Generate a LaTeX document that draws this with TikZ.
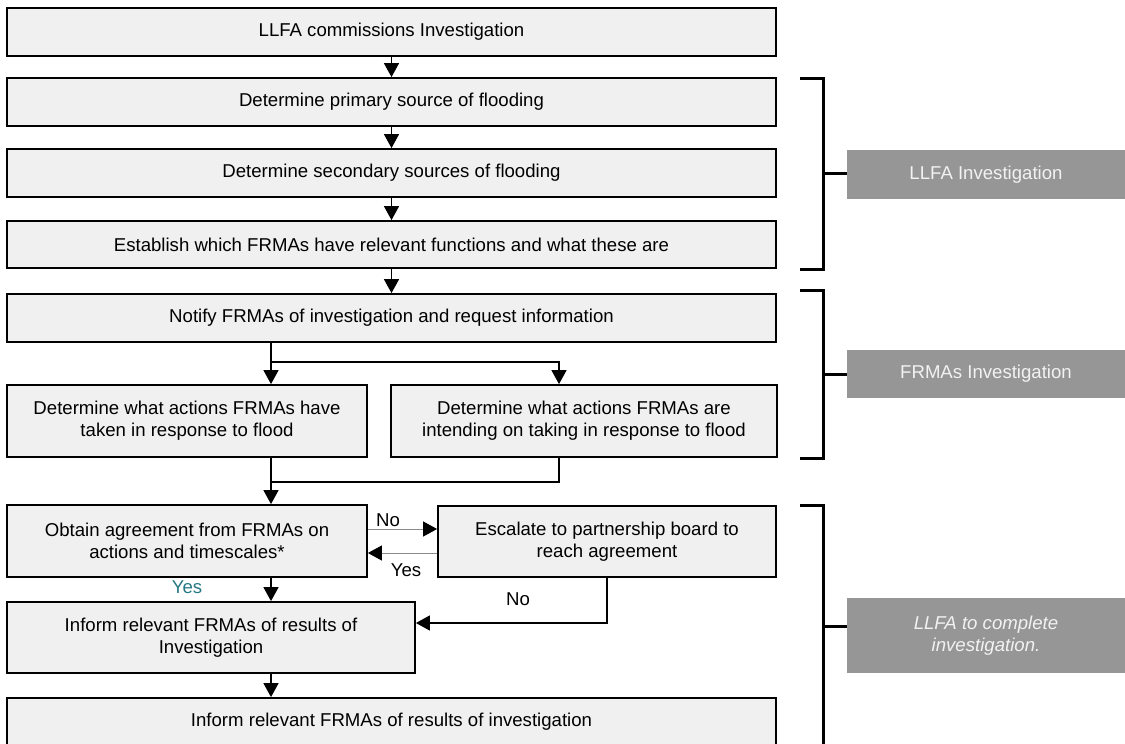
\documentclass[tikz,border=0pt]{standalone}
\usepackage{fontspec}
\setmainfont{Liberation Sans}
\usetikzlibrary{arrows.meta}
\definecolor{boxfill}{HTML}{F0F0F0}
\definecolor{sidegray}{HTML}{969696}
\definecolor{sidetext}{HTML}{F2F2F2}
\definecolor{yescol}{RGB}{38,120,130}
\definecolor{thingray}{HTML}{8A8A8A}
\begin{document}
\begin{tikzpicture}[x=1pt,y=-1pt,
  txt/.style={font=\fontsize{18.6}{22}\selectfont},
  box/.style={txt, draw=black, line width=1.8pt, fill=boxfill, align=center, inner sep=0pt},
  side/.style={txt, fill=sidegray, text=sidetext, align=center, inner sep=0pt, minimum width=278pt},
  arr/.style={line width=1.5pt, -{Triangle[width=15pt,length=14pt]}},
  link/.style={line width=1.5pt},
  thinarr/.style={draw=thingray, line width=1pt, -{Triangle[width=15pt,length=14pt,black]}},
  brk/.style={line width=3pt},
  lbl/.style={txt, inner sep=0pt}]
\useasboundingbox (0,0) rectangle (1125,744);
\clip (0,0) rectangle (1125,744);
\fill[white] (0,0) rectangle (1125,744);
% main boxes
\node[box, minimum width=769pt, minimum height=48pt] (b1) at (391.5,32) {LLFA commissions Investigation};
\node[box, minimum width=769pt, minimum height=48pt] (b2) at (391.5,102) {Determine primary source of flooding};
\node[box, minimum width=769pt, minimum height=48pt] (b3) at (391.5,173) {Determine secondary sources of flooding};
\node[box, minimum width=769pt, minimum height=47pt] (b4) at (391.5,244.5) {Establish which FRMAs have relevant functions and what these are};
\node[box, minimum width=769pt, minimum height=48pt] (b5) at (391.5,318) {Notify FRMAs of investigation and request information};
\node[box, minimum width=360pt, minimum height=72pt] (lft) at (187,421) {Determine what actions FRMAs have\\taken in response to flood};
\node[box, minimum width=386pt, minimum height=72pt] (rgt) at (584,421) {Determine what actions FRMAs are\\intending on taking in response to flood};
\node[box, minimum width=360pt, minimum height=72pt] (obt) at (187,541) {Obtain agreement from FRMAs on\\actions and timescales*};
\node[box, minimum width=338pt, minimum height=71pt] (esc) at (607,541.5) {Escalate to partnership board to\\reach agreement};
\node[box, minimum width=408pt, minimum height=71pt] (inf1) at (211,637.5) {Inform relevant FRMAs of results of\\Investigation};
\node[box, minimum width=769pt, minimum height=48pt] (inf2) at (391.5,722) {Inform relevant FRMAs of results of investigation};
% helper coordinates
\coordinate (lx) at (271,0);
\coordinate (rx) at (559,0);
\coordinate (fork) at (271,362);
\coordinate (join) at (271,482);
\coordinate (ny) at (0,529);
\coordinate (yy) at (0,553);
\coordinate (noy) at (0,623);
% connectors
\draw[arr] (b1) -- (b2);
\draw[arr] (b2) -- (b3);
\draw[arr] (b3) -- (b4);
\draw[arr] (b4) -- (b5);
\draw[arr] (b5.south -| lx) -- (lft.north -| lx);
\draw[arr] (fork) -| (rgt.north -| rx);
\draw[arr] (lft.south -| lx) -- (obt.north -| lx);
\draw[link] (rgt.south -| rx) |- (join);
\draw[thinarr] (obt.east |- ny) -- (esc.west |- ny);
\draw[thinarr] (esc.west |- yy) -- (obt.east |- yy);
\draw[arr] (obt.south -| lx) -- (inf1.north -| lx);
\draw[arr] (esc.south) |- (inf1.east |- noy);
\draw[arr] (inf1.south -| lx) -- (inf2.north -| lx);
% labels
\node[lbl] (lno1) at (388,520) {No};
\node[lbl] (lyes1) at (406,570) {Yes};
\node[lbl, text=yescol] (lyes2) at (187,587) {Yes};
\node[lbl] (lno2) at (518,599) {No};
% side groups
\node[side, minimum height=49pt] (g1) at (986,174.5) {LLFA Investigation};
\node[side, minimum height=48pt] (g2) at (986,374) {FRMAs Investigation};
\node[side, minimum height=75pt, font=\fontsize{18.6}{22}\selectfont\itshape] (g3) at (986,635.5) {LLFA to complete\\investigation.};
\draw[brk] (800,78) -- (823,78) -- (823,269) -- (800,269);
\draw[brk] (823,173) -- (g1.west |- 0,173);
\draw[brk] (800,290) -- (823,290) -- (823,458) -- (800,458);
\draw[brk] (823,374) -- (g2.west |- 0,374);
\draw[brk] (800,505) -- (823,505) -- (823,760);
\draw[brk] (823,626) -- (g3.west |- 0,626);
\end{tikzpicture}
\end{document}
